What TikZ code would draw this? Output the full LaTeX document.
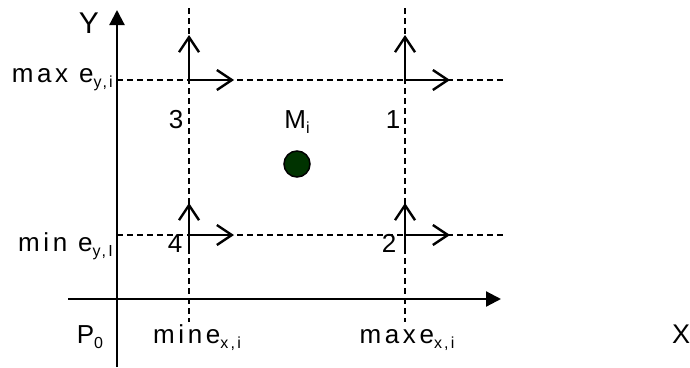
\documentclass[tikz,border=0pt]{standalone}
\usepackage{fontspec}
\setmainfont{Liberation Sans}[LetterSpace=14]
\usetikzlibrary{arrows.meta}
\definecolor{mgreen}{RGB}{0,51,0}
\newcommand\mysub[1]{\raisebox{-0.22em}{\fontsize{16}{16}\selectfont #1}}
\begin{document}
\begin{tikzpicture}[x=1pt,y=-1pt,
  axisline/.style={line width=2.2pt,-{Triangle[length=15pt,width=15pt]}},
  guide/.style={line width=1.6pt,dash pattern=on 6pt off 4pt},
  vec/.style={line width=2.4pt,-{Straight Barb[length=15pt,width=20pt,line width=2.4pt]}},
  lbl/.style={inner sep=0pt,anchor=base,font=\fontsize{26}{28}\selectfont},
  pt/.style={circle,draw=black,line width=1.5pt,fill=mgreen,minimum size=26pt,inner sep=0pt}]
\useasboundingbox (0,0) rectangle (690,367);
% axes
\coordinate (yb) at (117,367);
\coordinate (yt) at (117,10);
\coordinate (xl) at (68,299);
\coordinate (xr) at (501,299);
\draw[axisline] (yb) -- (yt);
\draw[axisline] (xl) -- (xr);
% guides
\coordinate (v1t) at (189,8);   \coordinate (v1b) at (189,322);
\coordinate (v2t) at (405,8);   \coordinate (v2b) at (405,322);
\coordinate (h1l) at (117,80);  \coordinate (h1r) at (503,80);
\coordinate (h2l) at (117,235); \coordinate (h2r) at (503,235);
\draw[guide] (v1t) -- (v1b);
\draw[guide] (v2t) -- (v2b);
\draw[guide] (h1l) -- (h1r);
\draw[guide] (h2l) -- (h2r);
% corner points
\coordinate (c3) at (189,80);
\coordinate (c1) at (405,80);
\coordinate (c4) at (189,235);
\coordinate (c2) at (405,235);
\coordinate (c3u) at (189,35);  \coordinate (c3r) at (234,80);
\coordinate (c1u) at (405,35);  \coordinate (c1r) at (450,80);
\coordinate (c4s) at (189,250); \coordinate (c4u) at (189,203); \coordinate (c4r) at (234,235);
\coordinate (c2s) at (405,250); \coordinate (c2u) at (405,203); \coordinate (c2r) at (450,235);
\draw[vec] (c3) -- (c3u);
\draw[vec] (c3) -- (c3r);
\draw[vec] (c1) -- (c1u);
\draw[vec] (c1) -- (c1r);
\draw[vec] (c4s) -- (c4u);
\draw[vec] (c4) -- (c4r);
\draw[vec] (c2s) -- (c2u);
\draw[vec] (c2) -- (c2r);
% point M_i
\node[pt] (m) at (297,164) {};
% labels
\node[lbl,font=\fontsize{30}{32}\selectfont] (ylab) at (89,33) {Y};
\node[lbl,anchor=base west,font=\fontsize{27}{28}\selectfont] (xlab) at (672,343) {X};
\node[lbl,anchor=base east] (maxy) at (113,82) {max e\mysub{y,i}};
\node[lbl,anchor=base east] (miny) at (113,251) {min e\mysub{y,I}};
\node[lbl] (p0) at (90,343) {P\mysub{0}};
\node[lbl] (minx) at (197,343) {mine\mysub{x,i}};
\node[lbl] (maxx) at (407,343) {maxe\mysub{x,i}};
\node[lbl] (mlab) at (297,128) {M\mysub{i}};
\node[lbl] (n3) at (176,128) {3};
\node[lbl] (n1) at (393,128) {1};
\node[lbl] (n4) at (175,252) {4};
\node[lbl] (n2) at (389,252) {2};
\end{tikzpicture}
\end{document}
